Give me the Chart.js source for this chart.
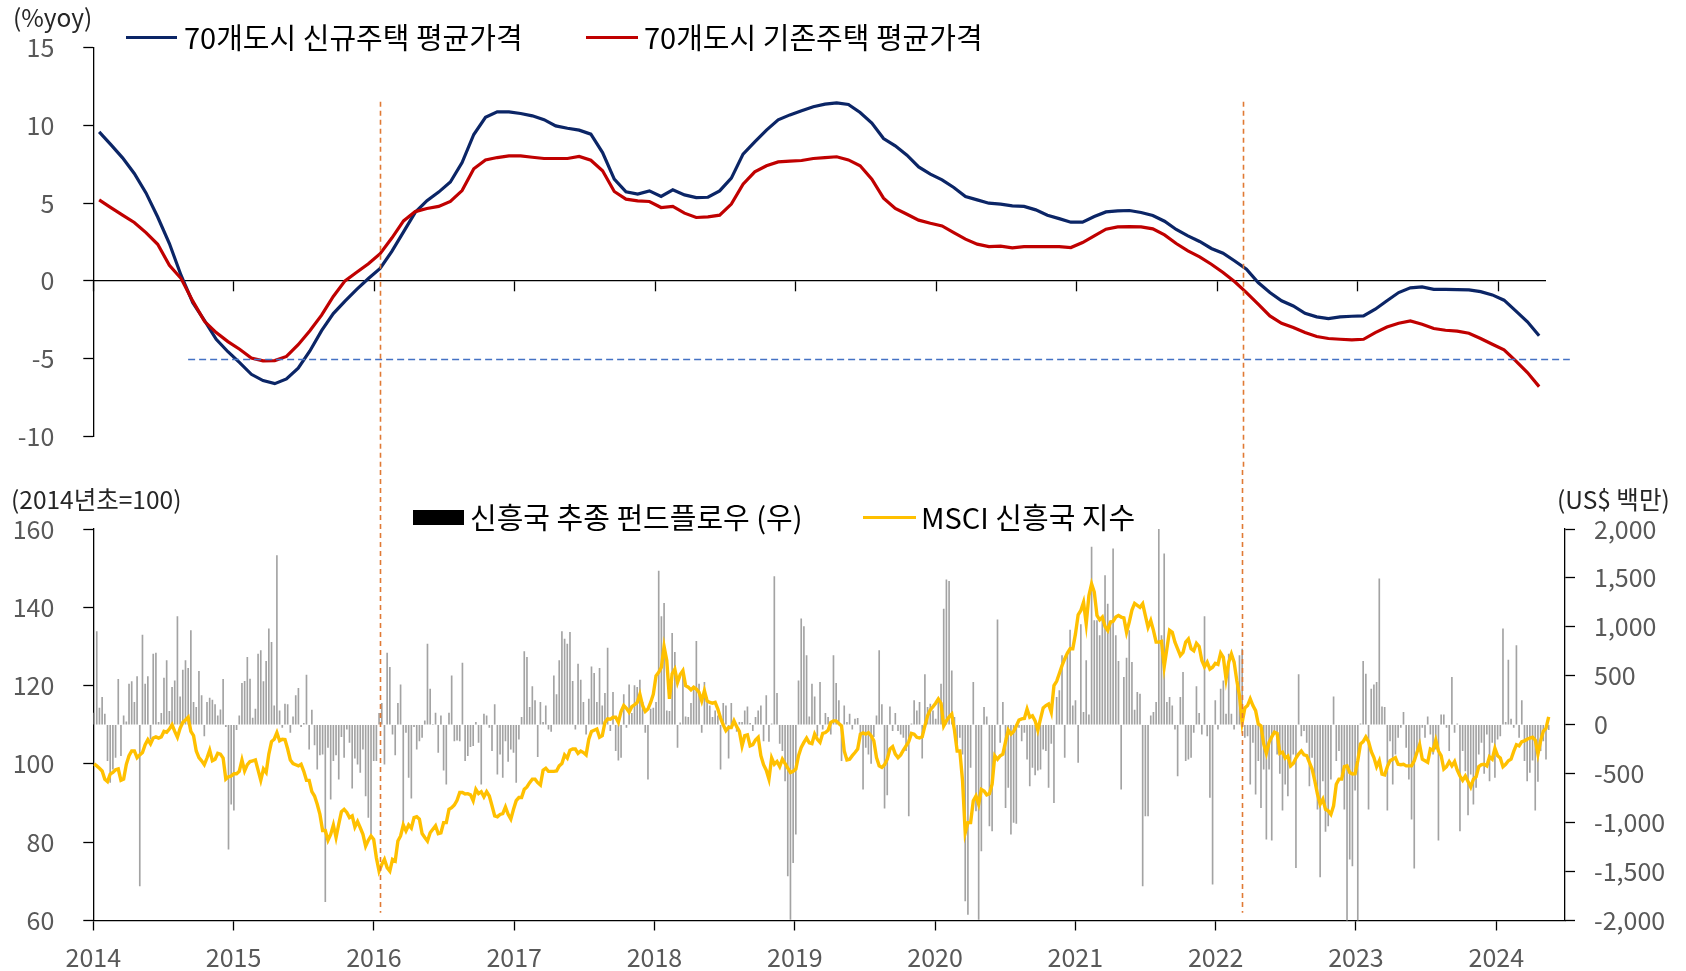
<!DOCTYPE html>
<html><head><meta charset="utf-8">
<script src="https://cdn.jsdelivr.net/npm/chart.js@4.4.1/dist/chart.umd.min.js"></script>
<style>
html,body{margin:0;padding:0;background:#fff;}
#wrap{position:relative;width:1686px;height:971px;overflow:hidden;font-family:'Noto Sans CJK KR','Noto Sans',sans-serif;}
canvas{position:absolute;left:0;}
#c1{top:0;width:1686px;height:470px;}
#c2{top:470px;width:1686px;height:501px;}
.t{position:absolute;white-space:nowrap;line-height:1;color:#000;}
.u{font-size:24.5px;color:#262626;}
.lg{font-size:29px;color:#000;}
.sw{position:absolute;height:0;border-top:3px solid;}
</style></head>
<body><div id="wrap">
<canvas id="c1" width="1686" height="470"></canvas>
<canvas id="c2" width="1686" height="501"></canvas>
<div class="t u" style="left:13px;top:5px;">(%yoy)</div>
<div class="sw" style="left:126px;top:36px;width:51px;border-color:#0B2566;"></div>
<div class="t lg" style="left:184px;top:22px;">70개도시 신규주택 평균가격</div>
<div class="sw" style="left:586px;top:36px;width:52px;border-color:#C00000;"></div>
<div class="t lg" style="left:644px;top:22px;">70개도시 기존주택 평균가격</div>
<div class="t u" style="left:11px;top:487px;">(2014년초=100)</div>
<div class="t u" style="left:1557px;top:487px;">(US$ 백만)</div>
<div style="position:absolute;left:413px;top:510px;width:51px;height:15px;background:#000;"></div>
<div class="t lg" style="left:470px;top:502px;">신흥국 추종 펀드플로우 (우)</div>
<div class="sw" style="left:863px;top:516px;width:53px;border-color:#FFC000;"></div>
<div class="t lg" style="left:921px;top:502px;">MSCI 신흥국 지수</div>
</div>
<script>
// ---- data ----
const yearLabels = ['2014','2015','2016','2017','2018','2019','2020','2021','2022','2023','2024'];
// monthly, Jan 2014 - Apr 2024 (%yoy)
const newHomePrice = [
9.57,8.75,7.9,6.9,5.65,4.1,2.4,0.35,-1.4,-2.55,-3.75,-4.55,
-5.25,-6.0,-6.4,-6.6,-6.3,-5.6,-4.5,-3.2,-2.1,-1.3,-0.55,0.15,
0.8,1.9,3.15,4.4,5.15,5.7,6.35,7.6,9.4,10.5,10.85,10.85,
10.75,10.6,10.35,9.95,9.8,9.68,9.42,8.24,6.53,5.72,5.57,5.78,
5.42,5.85,5.52,5.35,5.37,5.78,6.6,8.14,8.93,9.68,10.34,10.66,
10.92,11.18,11.35,11.43,11.33,10.81,10.13,9.14,8.67,8.07,7.32,6.85,
6.49,6.0,5.42,5.2,4.99,4.93,4.82,4.78,4.56,4.22,4.0,3.77,
3.77,4.13,4.43,4.5,4.52,4.39,4.2,3.83,3.3,2.89,2.53,2.08,
1.78,1.28,0.75,-0.11,-0.75,-1.28,-1.61,-2.08,-2.31,-2.42,-2.31,-2.27,
-2.25,-1.82,-1.28,-0.75,-0.45,-0.39,-0.54,-0.54,-0.56,-0.58,-0.69,-0.9,
-1.24,-1.93,-2.63,-3.53];
const existingHomePrice = [
5.2,4.71,4.22,3.75,3.1,2.35,1.0,0.15,-1.3,-2.6,-3.32,-3.9,
-4.39,-4.95,-5.14,-5.12,-4.85,-4.1,-3.2,-2.2,-1.0,0.0,0.55,1.1,
1.75,2.75,3.85,4.45,4.65,4.78,5.1,5.8,7.2,7.77,7.92,8.03,
8.03,7.94,7.86,7.86,7.86,7.99,7.75,7.07,5.74,5.25,5.14,5.1,
4.71,4.78,4.35,4.07,4.11,4.22,4.93,6.21,7.0,7.39,7.64,7.69,
7.73,7.86,7.92,7.97,7.77,7.39,6.53,5.31,4.65,4.28,3.9,3.7,
3.53,3.1,2.68,2.36,2.2,2.23,2.12,2.2,2.2,2.2,2.2,2.14,
2.46,2.89,3.32,3.47,3.49,3.47,3.34,2.95,2.4,1.93,1.54,1.07,
0.54,-0.06,-0.75,-1.5,-2.25,-2.72,-3.0,-3.32,-3.57,-3.7,-3.75,-3.79,
-3.75,-3.32,-2.96,-2.72,-2.57,-2.78,-3.06,-3.17,-3.23,-3.36,-3.7,-4.07,
-4.43,-5.14,-5.89,-6.79];
// weekly from 2014-01-03: MSCI EM index (start of 2014 = 100)
const msciEM = [
100.0,99.5,98.9,98.2,96.1,95.5,97.4,97.8,98.5,98.7,
95.8,96.1,99.9,102.1,103.3,103.3,101.6,102.3,102.9,104.9,
106.2,105.1,106.6,106.9,106.6,106.9,108.3,108.1,108.9,110.0,
108.3,106.8,109.1,110.6,111.2,111.9,108.3,107.2,103.3,101.6,
100.8,99.8,101.5,103.5,100.8,101.2,102.7,102.5,101.5,96.1,
96.7,96.9,97.5,97.5,98.1,101.0,98.2,99.8,100.6,100.8,
101.0,98.4,95.8,98.7,97.8,102.5,105.7,106.3,108.0,105.9,
106.3,106.2,103.8,101.0,100.1,99.8,99.5,99.9,98.1,95.8,
95.8,92.9,91.8,89.7,87.1,83.0,83.0,80.5,82.0,84.4,
81.2,84.6,87.8,88.4,87.6,86.3,86.7,83.9,85.3,83.7,
82.0,79.0,80.5,81.6,80.7,76.0,72.6,74.3,75.6,73.5,
72.6,75.6,75.2,80.3,81.6,84.4,82.9,84.4,83.6,86.3,
86.5,85.9,82.2,81.2,80.3,82.4,83.3,84.2,82.2,82.4,
85.0,85.0,88.4,88.8,89.5,90.7,92.7,92.7,92.3,92.4,
92.1,90.6,93.5,92.4,92.9,91.6,92.9,91.8,89.3,86.7,
86.5,87.1,87.3,89.0,87.1,85.9,88.4,90.6,91.4,91.4,
93.5,94.1,95.2,96.1,96.1,95.2,94.6,98.4,98.9,98.1,
98.1,98.1,98.2,99.5,100.1,102.3,101.5,103.5,103.8,103.8,
102.7,103.3,102.9,102.3,106.3,108.3,108.6,108.9,106.8,107.2,
110.6,111.5,111.4,111.9,111.9,110.6,113.4,114.9,114.2,113.2,
114.6,115.1,115.7,117.8,114.9,113.4,114.0,115.7,117.8,122.5,
123.4,124.7,130.0,126.4,116.6,123.0,124.2,120.8,122.8,123.8,
120.0,119.6,118.9,119.6,119.1,118.3,116.1,118.7,116.1,115.7,
115.5,115.7,114.0,111.7,110.0,108.5,109.3,109.3,111.0,109.5,
108.3,104.6,107.2,107.4,104.6,104.9,106.1,106.8,102.1,99.8,
98.4,96.1,101.5,99.9,100.6,99.3,101.2,100.1,98.9,97.8,
98.1,98.7,102.1,104.2,105.5,106.6,105.4,105.2,107.6,106.3,
105.5,107.8,108.0,108.6,110.6,111.0,111.0,110.3,109.7,103.3,
101.0,101.2,102.1,102.9,103.8,107.6,107.9,107.6,108.0,107.2,
105.9,101.6,99.5,99.1,99.8,101.2,103.8,104.4,102.5,101.6,
102.3,103.5,104.6,105.7,107.8,107.6,106.8,106.6,106.9,109.7,
112.3,113.8,114.6,115.5,116.6,115.5,109.7,111.0,112.0,112.7,
108.6,103.3,103.3,95.7,82.4,85.0,85.0,90.6,91.8,89.7,
93.5,93.1,92.1,92.4,94.8,102.1,101.2,102.1,102.5,105.7,
108.6,107.6,108.3,109.7,111.2,111.5,111.6,114.0,111.9,112.3,
111.0,108.6,111.5,114.3,114.9,115.3,113.2,120.0,121.1,123.1,
125.1,126.8,128.3,129.4,129.4,133.2,138.1,139.2,141.3,135.8,
143.0,146.0,143.9,137.9,136.8,137.5,135.1,134.1,136.2,136.4,
137.5,137.9,137.5,137.3,133.6,136.2,139.3,141.0,140.5,140.0,
140.9,137.9,134.9,136.6,134.1,131.1,131.1,131.3,124.8,129.4,
134.1,133.6,131.1,129.4,127.7,128.5,131.1,131.9,129.4,128.9,
130.8,130.0,126.4,124.8,126.0,124.2,124.7,125.7,125.4,128.3,
127.2,121.7,126.0,128.1,126.0,121.3,117.4,110.6,114.3,114.9,
116.6,114.9,113.6,110.2,109.7,105.1,102.7,105.5,106.9,108.1,
107.8,102.7,103.0,101.5,102.0,99.5,100.1,101.5,102.5,103.3,
102.3,102.1,100.4,98.7,95.7,92.3,89.7,91.0,88.4,88.0,
87.1,89.3,94.8,96.1,96.1,99.3,99.5,97.8,97.4,97.5,
100.8,105.1,105.7,106.9,105.7,103.2,101.6,99.3,100.8,97.4,
97.2,99.3,100.8,101.2,101.6,99.9,99.8,99.9,99.5,99.5,
99.5,100.8,102.9,104.9,101.2,100.8,100.4,103.8,103.5,106.1,
103.3,102.1,98.7,99.3,100.6,99.5,100.6,98.4,96.9,95.8,
96.9,95.5,94.1,96.1,96.7,99.3,99.8,99.9,99.5,101.8,
101.2,104.0,102.1,101.5,99.3,99.9,100.8,101.2,103.2,104.9,
104.6,105.7,105.9,106.3,106.6,106.8,106.1,102.5,105.9,108.3,
109.1,112.0];
// weekly EM-dedicated fund flows (US$ mn)
const emFundFlow = [
120,951,170,280,109,-368,-590,-454,-334,464,
-317,92,30,416,440,228,491,-1647,917,416,
491,-147,723,733,24,116,477,655,136,382,
450,1105,286,559,655,576,962,228,177,546,
297,-113,228,273,252,205,92,153,464,-20,
-1272,-812,-873,-50,92,423,443,689,467,68,
160,723,757,440,648,979,842,194,1729,143,
-27,211,205,-78,82,297,372,-20,14,508,
-249,150,-205,-454,-307,-300,-1807,-232,-760,-368,
-307,-556,-123,-334,-44,-181,-648,-341,-402,-488,
-249,-726,-948,-1118,-368,-368,116,218,-402,733,
587,-95,-307,218,409,-1023,-78,-539,-750,-20,
-249,-164,-130,41,825,365,5,119,-283,92,
-464,-607,119,501,-164,-157,-164,631,-368,-317,
-225,-215,24,-181,-607,109,92,-27,-266,205,
-505,-300,-539,-164,-375,-249,-283,-590,-147,75,
747,689,177,389,246,-327,228,24,194,-44,
-68,501,307,655,951,876,825,945,443,-44,
621,457,228,-95,263,593,525,228,576,194,
321,784,-61,331,-266,-361,-334,307,-27,409,
116,399,382,457,228,-78,-556,160,170,228,
1569,1105,1241,143,136,934,740,-232,20,552,
82,75,218,389,853,416,-78,433,280,194,
75,143,92,-454,218,194,-341,218,14,-68,
24,24,143,184,14,-61,75,143,194,-164,
297,-170,10,1514,321,-191,-266,-573,-1545,-1989,
-1408,-1118,450,1081,1003,706,82,416,286,-113,
433,-44,116,75,-95,706,423,246,-368,194,
24,109,-44,58,65,-89,-658,-232,-300,-396,
-123,92,757,205,-853,-716,184,-61,116,-61,
-95,-130,-266,-931,10,246,143,228,-341,512,
177,211,143,58,246,416,1183,1480,1466,552,
75,-266,-130,-300,-1800,-1937,-437,433,-880,-1989,
-1289,177,82,-1033,-1084,-300,1071,-181,228,-846,
-641,-1118,-999,-1009,-27,-164,-78,-351,-624,-437,
-512,-464,-454,-249,-266,-641,-191,-795,280,348,
706,-334,706,968,194,246,-385,1023,126,655,
102,1814,1064,1064,911,1064,1524,1234,1064,1797,
911,648,-658,484,682,962,638,150,331,314,
-1647,-931,-931,92,126,228,2000,911,1746,228,
280,194,-44,-522,280,535,-368,-351,-334,-78,
389,116,-95,1105,-113,-743,-1630,246,-44,365,
450,109,723,109,-44,399,706,774,-130,-113,
-607,-181,-709,-368,-846,-454,-1170,-454,-1180,-95,
-300,-498,-873,-607,-726,-437,-300,-1459,512,-113,
-61,-181,-624,-334,-573,-863,-1555,-573,-1091,-1033,
-556,286,-368,-266,-522,-863,-2005,-1374,-1442,-668,
-2005,10,648,518,-863,365,409,433,1490,184,
177,-873,-164,-607,-300,-130,-27,126,-232,-556,
-965,-1466,-300,-232,-27,-130,82,-95,-300,-249,
-1180,102,102,-27,-266,484,-78,10,-1084,-266,
-471,-921,-505,-812,-641,-300,-181,-498,-95,-573,
-181,-539,-147,-113,979,24,662,58,-27,808,
-130,246,-368,-573,-488,-361,-873,-580,-266,-164,
-351,-50];
const eventYears = [2016.043, 2022.185];   // dashed vertical markers
const guideLevel = -5;                      // dashed horizontal guide (%yoy)

// x positions (fractional years) for months and weeks
const monthX = newHomePrice.map((_, m) => 2014 + (m + 0.5) / 12);
const weekX = msciEM.map((_, i) => 2014 + (2 + 7 * i) / 365.25);

// ---- styling ----
const FONT = "'Noto Sans CJK KR','Noto Sans',sans-serif";
Chart.defaults.font.family = FONT;
Chart.defaults.color = '#595959';
const tickFont = {size: 25, family: FONT};
const yearTick = v => Number.isInteger(v) ? (yearLabels[v - 2014] || '') : '';
const fitY = w => s => { s.width = w; s.paddingTop = 0; s.paddingBottom = 0; };

const markers = {
  id: 'markers',
  afterDatasetsDraw(chart, args, o) {
    const {ctx, scales} = chart;
    const xs = scales.x, ys = scales[o.yAxis];
    ctx.save();
    if (o.hLine) {
      const y = Math.round(ys.getPixelForValue(o.hLine.value)) + 0.5;
      ctx.strokeStyle = '#4472C4'; ctx.lineWidth = 1.3; ctx.setLineDash([7, 4]);
      ctx.beginPath();
      ctx.moveTo(xs.getPixelForValue(o.hLine.from), y);
      ctx.lineTo(xs.getPixelForValue(o.hLine.to), y);
      ctx.stroke();
    }
    ctx.strokeStyle = '#E07A35'; ctx.lineWidth = 1.6; ctx.setLineDash([5, 4]);
    const yTop = o.vFrom === null ? 0 : ys.getPixelForValue(o.vFrom);
    const yBot = o.vTo === null ? chart.height : ys.getPixelForValue(o.vTo);
    for (const v of eventYears) {
      const x = Math.round(xs.getPixelForValue(v)) + 0.5;
      ctx.beginPath(); ctx.moveTo(x, yTop); ctx.lineTo(x, yBot); ctx.stroke();
    }
    ctx.restore();
  }
};

// ---- top chart ----
new Chart(document.getElementById('c1'), {
  type: 'line',
  data: {
    datasets: [
      {label: '70개도시 신규주택 평균가격', data: newHomePrice.map((v, i) => ({x: monthX[i], y: v})),
       borderColor: '#0B2566', borderWidth: 3.2, pointRadius: 0, tension: 0, order: 1},
      {label: '70개도시 기존주택 평균가격', data: existingHomePrice.map((v, i) => ({x: monthX[i], y: v})),
       borderColor: '#C00000', borderWidth: 3.2, pointRadius: 0, tension: 0, order: 0}
    ]
  },
  options: {
    responsive: false, animation: false, events: [],
    layout: {padding: {left: 0, right: 141, top: 47.3, bottom: 33.4}},
    plugins: {legend: {display: false}, tooltip: {enabled: false},
      markers: {yAxis: 'y', hLine: {value: guideLevel, from: 2014.675, to: 2024.51}, vFrom: 11.5, vTo: null}},
    scales: {
      x: {type: 'linear', position: {y: 0}, min: 2014, max: 2014 + 124 / 12, offset: false,
          ticks: {display: false, stepSize: 1, includeBounds: false},
          grid: {display: true, drawOnChartArea: false, drawTicks: true, tickLength: 10, tickColor: '#000', tickWidth: 1.3, offset: false},
          border: {display: true, color: '#000', width: 1.3},
          afterFit: s => { s.height = 0; }},
      y: {type: 'linear', position: 'left', min: -10, max: 15,
          ticks: {stepSize: 5, font: tickFont, color: '#595959', padding: 29},
          grid: {drawOnChartArea: false, drawTicks: true, tickLength: 10, tickColor: '#000', tickWidth: 1.3},
          border: {display: true, color: '#000', width: 1.3},
          afterFit: fitY(93.3)}
    }
  },
  plugins: [markers]
});

// ---- bottom chart ----
new Chart(document.getElementById('c2'), {
  type: 'bar',
  data: {
    datasets: [
      {type: 'line', label: 'MSCI 신흥국 지수', data: msciEM.map((v, i) => ({x: weekX[i], y: v})),
       yAxisID: 'y', borderColor: '#FFC000', borderWidth: 3.4, pointRadius: 0, tension: 0, order: 0},
      {type: 'bar', label: '신흥국 추종 펀드플로우 (우)', data: emFundFlow.map((v, i) => ({x: weekX[i], y: v})),
       yAxisID: 'y2', backgroundColor: '#A3A3A3', borderWidth: 0, barThickness: 1, order: 1}
    ]
  },
  options: {
    responsive: false, animation: false, events: [],
    layout: {padding: {left: 0, right: 0, top: 59, bottom: 0}},
    plugins: {legend: {display: false}, tooltip: {enabled: false},
      markers: {yAxis: 'y', hLine: null, vFrom: null, vTo: 62}},
    scales: {
      x: {type: 'linear', position: 'bottom', min: 2014, max: 2024.49, offset: false,
          ticks: {stepSize: 1, includeBounds: false, font: tickFont, color: '#595959', padding: 12, maxRotation: 0, autoSkip: false, callback: yearTick},
          grid: {display: true, drawOnChartArea: false, drawTicks: true, tickLength: 10, tickColor: '#000', tickWidth: 1.3, offset: false},
          border: {display: true, color: '#000', width: 1.3},
          afterFit: s => { s.height = 50.5; }},
      y: {type: 'linear', position: 'left', min: 60, max: 160,
          ticks: {stepSize: 20, font: tickFont, color: '#595959', padding: 29},
          grid: {drawOnChartArea: false, drawTicks: true, tickLength: 10, tickColor: '#000', tickWidth: 1.3},
          border: {display: true, color: '#000', width: 1.3},
          afterFit: fitY(93.3)},
      y2: {type: 'linear', position: 'right', min: -2000, max: 2000,
          ticks: {stepSize: 500, font: tickFont, color: '#595959', padding: 19,
                  callback: v => v.toLocaleString('en-US')},
          grid: {drawOnChartArea: false, drawTicks: true, tickLength: 10, tickColor: '#000', tickWidth: 1.3},
          border: {display: true, color: '#000', width: 1.3},
          afterFit: fitY(121)}
    }
  },
  plugins: [markers]
});
</script>
</body></html>
